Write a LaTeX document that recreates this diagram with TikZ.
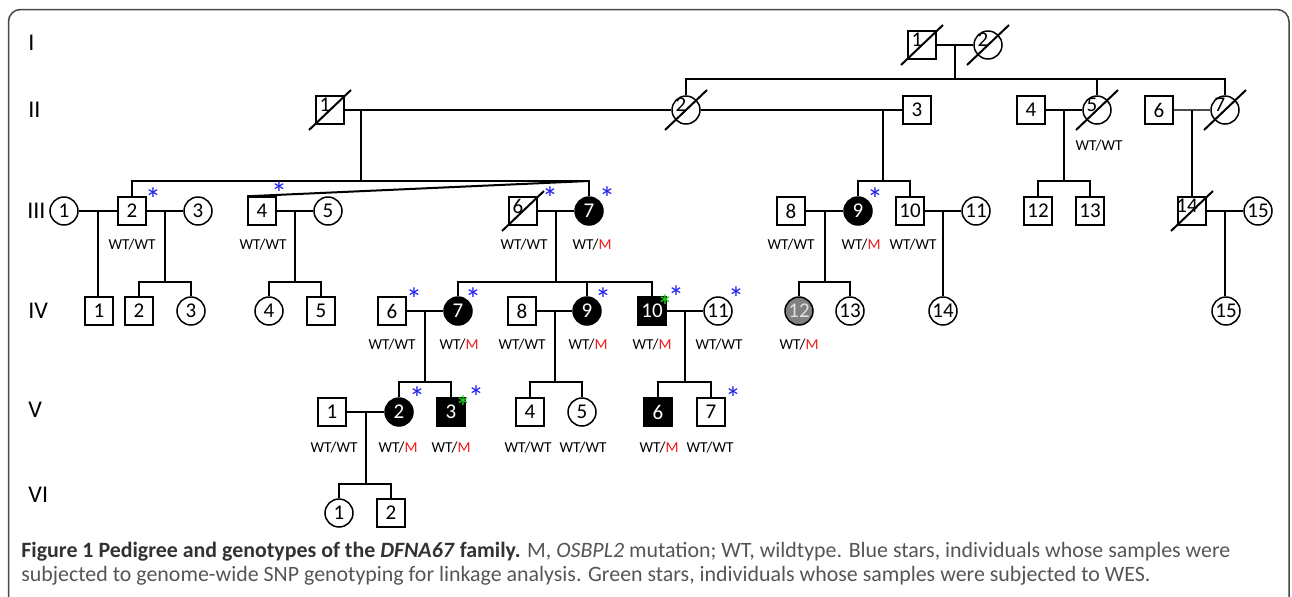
\documentclass[tikz,border=0pt]{standalone}
\usepackage{fontspec}
\setmainfont{Carlito}
\usetikzlibrary{calc}
\definecolor{snpblue}{RGB}{30,30,235}
\definecolor{wesgreen}{RGB}{30,215,30}
\definecolor{mutred}{RGB}{240,25,25}
\definecolor{capgrey}{RGB}{85,85,85}
\definecolor{capdark}{RGB}{50,50,50}
\definecolor{panelgrey}{RGB}{70,70,70}
\newcommand{\dn}[1]{\makebox[0pt]{\raisebox{5pt}{#1}\hspace{5pt}}}
\newcommand{\ww}{WT/WT}
\newcommand{\wm}{WT/\textcolor{mutred}{M}}

\begin{document}
\begin{tikzpicture}[x=0.5pt, y=-0.5pt,
    link/.style={line width=1pt},
    slash/.style={line width=1pt},
    sq/.style={draw, rectangle, line width=0.75pt, minimum size=14pt, inner sep=0pt, fill=white, font=\fontsize{10.5}{12}\selectfont},
    ci/.style={draw, circle, line width=0.75pt, minimum size=14pt, inner sep=0pt, fill=white, font=\fontsize{10.5}{12}\selectfont},
    aff/.style={fill=black, text=white},
    part/.style={fill=black!50, text=black!12},
    geno/.style={inner sep=0pt, font=\fontsize{7.6}{8}\selectfont},
    snp/.style={inner sep=0pt, anchor=north, text=snpblue, font=\fontsize{16}{16}\selectfont, text height=11pt, text depth=-5pt},
    wes/.style={snp, text=wesgreen},
    gen/.style={inner sep=0pt, anchor=west, font=\fontsize{12}{14}\selectfont},
    capt/.style={inner sep=0pt, anchor=base west, text=capgrey, font=\fontsize{10.95}{12}\selectfont},
    panel/.style={draw=panelgrey, line width=0.75pt, rounded corners=6pt}]
    \useasboundingbox (0,0) rectangle (1292,596);
    \draw[panel] (8.5,600) -- (8.5,9.5) -- (1289,9.5) -- (1289,600);

    % Generation labels
    \node[gen] (rI) at (28,43) {I};
    \node[gen] (rII) at (28,110) {II};
    \node[gen] (rIII) at (27,211) {III};
    \node[gen] (rIV) at (28,311) {IV};
    \node[gen] (rV) at (28,410) {V};
    \node[gen] (rVI) at (28,495) {VI};

    % Generation I
    \node[sq] (I1) at (922,45) {\dn{1}};
    \node[ci] (I2) at (988,45) {\dn{2}};

    % Generation II
    \node[sq] (II1) at (330,110) {\dn{1}};
    \node[ci] (II2) at (686,110) {\dn{2}};
    \node[sq] (II3) at (917,110) {3};
    \node[sq] (II4) at (1031,110) {4};
    \node[ci] (II5) at (1097,110) {\dn{5}};
    \node[sq] (II6) at (1159,110) {6};
    \node[ci] (II7) at (1225,110) {\dn{7}};

    % Generation III
    \node[ci] (III1) at (64,211) {1};
    \node[sq] (III2) at (132,211) {2};
    \node[ci] (III3) at (198,211) {3};
    \node[sq] (III4) at (262,211) {4};
    \node[ci] (III5) at (328,211) {5};
    \node[sq] (III6) at (523,211) {\dn{6}};
    \node[ci, aff] (III7) at (589,211) {7};
    \node[sq] (III8) at (791,211) {8};
    \node[ci, aff] (III9) at (858,211) {9};
    \node[sq] (III10) at (910,211) {10};
    \node[ci] (III11) at (976,211) {11};
    \node[sq] (III12) at (1038,211) {12};
    \node[sq] (III13) at (1090,211) {13};
    \node[sq] (III14) at (1192,211) {\dn{14}};
    \node[ci] (III15) at (1258,211) {15};

    % Generation IV
    \node[sq] (IV1) at (99,311) {1};
    \node[sq] (IV2) at (139,311) {2};
    \node[ci] (IV3) at (191,311) {3};
    \node[ci] (IV4) at (269,311) {4};
    \node[sq] (IV5) at (321,311) {5};
    \node[sq] (IV6) at (392,311) {6};
    \node[ci, aff] (IV7) at (458,311) {7};
    \node[sq] (IV8) at (522,311) {8};
    \node[ci, aff] (IV9) at (587,311) {9};
    \node[sq, aff] (IV10) at (652,311) {10};
    \node[ci] (IV11) at (718,311) {11};
    \node[ci, part] (IV12) at (799,311) {12};
    \node[ci] (IV13) at (850,311) {13};
    \node[ci] (IV14) at (943,311) {14};
    \node[ci] (IV15) at (1226,311) {15};

    % Generation V
    \node[sq] (V1) at (332,412) {1};
    \node[ci, aff] (V2) at (399,412) {2};
    \node[sq, aff] (V3) at (451,412) {3};
    \node[sq] (V4) at (530,412) {4};
    \node[ci] (V5) at (582,412) {5};
    \node[sq, aff] (V6) at (658,412) {6};
    \node[sq] (V7) at (711,412) {7};

    % Generation VI
    \node[ci] (VI1) at (339,513) {1};
    \node[sq] (VI2) at (391,513) {2};

    % Deceased
    \foreach \n in {I1,I2,II1,II2,II5,II7,III6,III14}
        \draw[slash] (\n.center) ++(-21,20) -- ++(42,-40);

    % Matings and sibships, I -> II
    \draw[link] (I1) -- (I2);
    \coordinate (mI) at ($(I1)!0.5!(I2)$);
    \draw[link] (mI) -- ++(0,34) coordinate (sI);
    \draw[link] (II2.north) |- (sI) -| (II7.north);
    \draw[link] (sI -| II5.north) -- (II5.north);

    % II -> III
    \draw[link] (II1) -- (II2);
    \draw[link] (II2) -- (II3);
    \coordinate (mII1) at (361,110);
    \draw[link] (mII1) -- ++(0,71) coordinate (sII1);
    \draw[link] (III2.north) |- (sII1) -| (III7.north);
    \draw[link] (III4.north west) -- (sII1 -| III7.north);
    \coordinate (mII2) at (883,110);
    \draw[link] (mII2) -- ++(0,71) coordinate (sII2);
    \draw[link] (III9.north) |- (sII2) -| (III10.north);
    \draw[link] (II4) -- (II5);
    \coordinate (mII4) at ($(II4)!0.5!(II5)$);
    \draw[link] (mII4) -- ++(0,71) coordinate (sII4);
    \draw[link] (III12.north) |- (sII4) -| (III13.north);
    \draw[link, line width=0.6pt, black!70] (II6) -- (II7);
    \coordinate (mII6) at ($(II6)!0.5!(II7)$);
    \draw[link] (mII6) -- (mII6 |- III14.north);

    % III -> IV
    \draw[link] (III1) -- (III2);
    \coordinate (mIII1) at ($(III1)!0.5!(III2)$);
    \draw[link] (mIII1) -- (mIII1 |- IV1.north);
    \draw[link] (III2) -- (III3);
    \coordinate (mIII2) at ($(III2)!0.5!(III3)$);
    \draw[link] (mIII2) -- ++(0,71) coordinate (sIII2);
    \draw[link] (IV2.north) |- (sIII2) -| (IV3.north);
    \draw[link] (III4) -- (III5);
    \coordinate (mIII4) at ($(III4)!0.5!(III5)$);
    \draw[link] (mIII4) -- ++(0,71) coordinate (sIII4);
    \draw[link] (IV4.north) |- (sIII4) -| (IV5.north);
    \draw[link] (III6) -- (III7);
    \coordinate (mIII6) at ($(III6)!0.5!(III7)$);
    \draw[link] (mIII6) -- ++(0,71) coordinate (sIII6);
    \draw[link] (IV7.north) |- (sIII6) -| (IV10.north);
    \draw[link] (sIII6 -| IV9.north) -- (IV9.north);
    \draw[link] (III8) -- (III9);
    \coordinate (mIII8) at ($(III8)!0.5!(III9)$);
    \draw[link] (mIII8) -- ++(0,71) coordinate (sIII8);
    \draw[link] (IV12.north) |- (sIII8) -| (IV13.north);
    \draw[link] (III10) -- (III11);
    \coordinate (mIII10) at ($(III10)!0.5!(III11)$);
    \draw[link] (mIII10) -- (mIII10 |- IV14.north);
    \draw[link] (III14) -- (III15);
    \coordinate (mIII14) at ($(III14)!0.5!(III15)$);
    \draw[link] (mIII14) -- (mIII14 |- IV15.north);

    % IV -> V
    \draw[link] (IV6) -- (IV7);
    \coordinate (mIV6) at ($(IV6)!0.5!(IV7)$);
    \draw[link] (mIV6) -- ++(0,71) coordinate (sIV6);
    \draw[link] (V2.north) |- (sIV6) -| (V3.north);
    \draw[link] (IV8) -- (IV9);
    \coordinate (mIV8) at ($(IV8)!0.5!(IV9)$);
    \draw[link] (mIV8) -- ++(0,71) coordinate (sIV8);
    \draw[link] (V4.north) |- (sIV8) -| (V5.north);
    \draw[link] (IV10) -- (IV11);
    \coordinate (mIV10) at ($(IV10)!0.5!(IV11)$);
    \draw[link] (mIV10) -- ++(0,71) coordinate (sIV10);
    \draw[link] (V6.north) |- (sIV10) -| (V7.north);

    % V -> VI
    \draw[link] (V1) -- (V2);
    \coordinate (mV1) at ($(V1)!0.5!(V2)$);
    \draw[link] (mV1) -- ++(0,72) coordinate (sV1);
    \draw[link] (VI1.north) |- (sV1) -| (VI2.north);

    % Genotypes
    \foreach \n/\x/\y/\g in {II5/1099/146/\ww,
        III2/132/245/\ww, III4/263/245/\ww, III6/524/245/\ww, III7/592/245/\wm,
        III8/791/245/\ww, III9/861/245/\wm, III10/913/245/\ww,
        IV6/392/345/\ww, IV7/459/345/\wm, IV8/522/345/\ww, IV9/588/345/\wm,
        IV10/652/345/\wm, IV11/719/345/\ww, IV12/799/345/\wm,
        V1/334/448/\ww, V2/398/448/\wm, V3/451/448/\wm, V4/528/448/\ww,
        V5/583/448/\ww, V6/659/448/\wm, V7/710/448/\ww}
        \node[geno] (g\n) at (\x,\y) {\g};

    % Stars: SNP genotyping (blue), WES (green)
    \foreach \n/\x/\y in {III2/153/188, III4/279/182, III6/550/187, III7/607/187,
        III9/875/188, IV6/414/288, IV7/473/288, IV9/603/288, IV10/676/286,
        IV11/736/287, V2/417/387, V3/476/386, V7/733/387}
        \node[snp] (s\n) at (\x,\y) {*};
    \node[wes] (wIV10) at (665,295) {*};
    \node[wes] (wV3) at (463,396) {*};

    % Caption
    \node[capt] (cap1) at (21,557) {\textcolor{capdark}{\textbf{Figure 1 Pedigree and genotypes of the \textit{DFNA67} family.}} M, \textit{OSBPL2} mutation; WT, wildtype. Blue stars, individuals whose samples were};
    \node[capt] (cap2) at (21,581) {subjected to genome-wide SNP genotyping for linkage analysis. Green stars, individuals whose samples were subjected to WES.};
\end{tikzpicture}
\end{document}
